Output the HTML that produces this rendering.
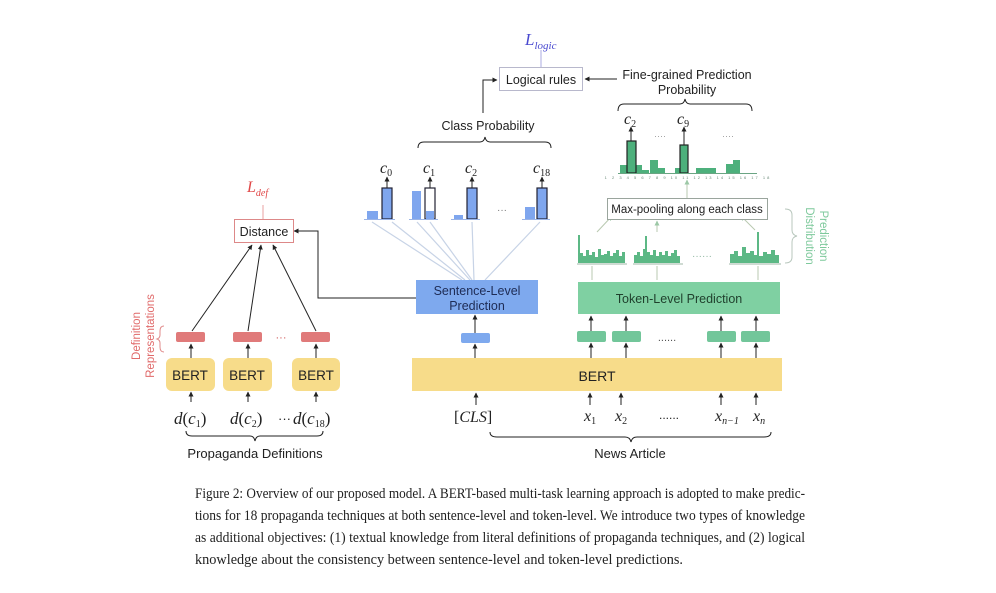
<!DOCTYPE html>
<html><head><meta charset="utf-8"><style>
html,body{margin:0;padding:0;background:#fff;}
svg{display:block;}
text{font-family:"Liberation Sans",sans-serif;}
.s{font-family:"Liberation Serif",serif;}
</style></head><body>
<svg width="996" height="593" viewBox="0 0 996 593" xmlns="http://www.w3.org/2000/svg">
<defs>
<marker id="a" viewBox="0 0 10 10" refX="9" refY="5" markerWidth="5" markerHeight="5" orient="auto"><path d="M0,0L10,5L0,10z" fill="#222"/></marker>
<marker id="g" viewBox="0 0 10 10" refX="9" refY="5" markerWidth="5" markerHeight="5" orient="auto"><path d="M0,0L10,5L0,10z" fill="#9cc8a6"/></marker>
</defs>
<rect width="996" height="593" fill="#fff"/>

<text x="525" y="45" class="s" font-size="17" font-style="italic" fill="#4a4ad0">L<tspan font-size="11" dy="4">logic</tspan></text>
<line x1="541" y1="50" x2="541" y2="67" stroke="#b9b9e6" stroke-width="1.2"/>
<rect x="499.5" y="67.5" width="83" height="23" fill="#fff" stroke="#b8b8cc"/>
<text x="541" y="84" font-size="12.5" text-anchor="middle" fill="#222">Logical rules</text>
<line x1="617" y1="79" x2="585" y2="79" stroke="#222" stroke-width="1" marker-end="url(#a)"/>
<text x="687" y="79" font-size="12.5" text-anchor="middle" fill="#222">Fine-grained Prediction</text>
<text x="687" y="94" font-size="12.5" text-anchor="middle" fill="#222">Probability</text>
<path d="M483,113 V80 H497" fill="none" stroke="#222" stroke-width="1" marker-end="url(#a)"/>
<text x="488" y="130" font-size="12.5" text-anchor="middle" fill="#222">Class Probability</text>
<path d="M418,148 Q418,142 424,142 H480 Q484,142 485,137 Q486,142 490,142 H545 Q551,142 551,148" fill="none" stroke="#222" stroke-width="1"/>
<path d="M618,111 Q618,104 624,104 H680 Q684,104 685,99 Q686,104 690,104 H746 Q752,104 752,111" fill="none" stroke="#222" stroke-width="1"/>

<g fill="#7fa6ee">
<rect x="367" y="211" width="11" height="8"/>
<rect x="382" y="188" width="10" height="31" stroke="#223" stroke-width="1.2"/>
<rect x="412" y="191" width="9" height="28"/>
<rect x="425" y="188" width="10" height="31" fill="#fff" stroke="#223" stroke-width="1.2"/>
<rect x="426" y="211" width="8" height="8"/>
<rect x="454" y="215" width="9" height="4"/>
<rect x="467" y="188" width="10" height="31" stroke="#223" stroke-width="1.2"/>
<rect x="525" y="207" width="10" height="12"/>
<rect x="537" y="188" width="10" height="31" stroke="#223" stroke-width="1.2"/>
</g>
<line x1="364" y1="219.5" x2="395" y2="219.5" stroke="#9bb4e6"/>
<line x1="409" y1="219.5" x2="438" y2="219.5" stroke="#9bb4e6"/>
<line x1="451" y1="219.5" x2="480" y2="219.5" stroke="#9bb4e6"/>
<line x1="522" y1="219.5" x2="550" y2="219.5" stroke="#9bb4e6"/>
<g stroke="#222" stroke-width="1">
<line x1="387" y1="188" x2="387" y2="177" marker-end="url(#a)"/>
<line x1="430" y1="188" x2="430" y2="177" marker-end="url(#a)"/>
<line x1="472" y1="188" x2="472" y2="177" marker-end="url(#a)"/>
<line x1="542" y1="188" x2="542" y2="177" marker-end="url(#a)"/>
</g>
<g class="s" font-size="16" font-style="italic" fill="#222">
<text x="380" y="173" class="s">c<tspan font-size="10" dy="3" font-style="normal">0</tspan></text>
<text x="423" y="173" class="s">c<tspan font-size="10" dy="3" font-style="normal">1</tspan></text>
<text x="465" y="173" class="s">c<tspan font-size="10" dy="3" font-style="normal">2</tspan></text>
<text x="533" y="173" class="s">c<tspan font-size="10" dy="3" font-style="normal">18</tspan></text>
</g>
<text x="502" y="213" font-size="10" fill="#777" text-anchor="middle">···</text>
<g stroke="#c7d3e6" stroke-width="1.2">
<line x1="372" y1="222" x2="462" y2="280"/>
<line x1="392" y1="222" x2="465" y2="280"/>
<line x1="417" y1="222" x2="470" y2="280"/>
<line x1="430" y1="222" x2="472" y2="280"/>
<line x1="472" y1="222" x2="474" y2="280"/>
<line x1="540" y1="222" x2="485" y2="280"/>
</g>

<rect x="416" y="280" width="122" height="34" fill="#7ea9ee"/>
<text x="477" y="295" font-size="12.5" text-anchor="middle" fill="#1e2c55">Sentence-Level</text>
<text x="477" y="310" font-size="12.5" text-anchor="middle" fill="#1e2c55">Prediction</text>
<path d="M416,298 H318 V231 H294" fill="none" stroke="#222" stroke-width="1" marker-end="url(#a)"/>
<line x1="475" y1="333" x2="475" y2="315" stroke="#222" marker-end="url(#a)"/>
<rect x="461" y="333" width="29" height="10" rx="2" fill="#7ea9ee"/>
<line x1="475" y1="358" x2="475" y2="344" stroke="#222" marker-end="url(#a)"/>

<rect x="412" y="358" width="370" height="33" fill="#f7dc8a"/>
<text x="597" y="381" font-size="14" text-anchor="middle" fill="#222">BERT</text>
<g stroke="#222" stroke-width="1">
<line x1="476" y1="405" x2="476" y2="393" marker-end="url(#a)"/>
<line x1="590" y1="405" x2="590" y2="393" marker-end="url(#a)"/>
<line x1="621" y1="405" x2="621" y2="393" marker-end="url(#a)"/>
<line x1="721" y1="405" x2="721" y2="393" marker-end="url(#a)"/>
<line x1="756" y1="405" x2="756" y2="393" marker-end="url(#a)"/>
</g>
<g font-size="16" fill="#222" font-style="italic">
<text x="454" y="422" class="s"><tspan font-style="normal">[</tspan>CLS<tspan font-style="normal">]</tspan></text>
<text x="584" y="421" class="s">x<tspan font-size="10" dy="3" font-style="normal">1</tspan></text>
<text x="615" y="421" class="s">x<tspan font-size="10" dy="3" font-style="normal">2</tspan></text>
<text x="715" y="421" class="s">x<tspan font-size="10" dy="3">n−1</tspan></text>
<text x="753" y="421" class="s">x<tspan font-size="10" dy="3">n</tspan></text>
</g>
<text x="669" y="419" font-size="12" text-anchor="middle" fill="#222">......</text>
<path d="M490,432 Q490,437 497,437 H625 Q630,437 631,442 Q632,437 637,437 H764 Q771,437 771,432" fill="none" stroke="#222" stroke-width="1"/>
<text x="630" y="458" font-size="13" text-anchor="middle" fill="#222">News Article</text>

<g fill="#72c69a">
<rect x="577" y="331" width="29" height="11" rx="2"/>
<rect x="612" y="331" width="29" height="11" rx="2"/>
<rect x="707" y="331" width="29" height="11" rx="2"/>
<rect x="741" y="331" width="29" height="11" rx="2"/>
</g>
<text x="667" y="341" font-size="11" text-anchor="middle" fill="#555">......</text>
<g stroke="#222" stroke-width="1">
<line x1="591" y1="358" x2="591" y2="343" marker-end="url(#a)"/>
<line x1="626" y1="358" x2="626" y2="343" marker-end="url(#a)"/>
<line x1="721" y1="358" x2="721" y2="343" marker-end="url(#a)"/>
<line x1="756" y1="358" x2="756" y2="343" marker-end="url(#a)"/>
<line x1="591" y1="331" x2="591" y2="316" marker-end="url(#a)"/>
<line x1="626" y1="331" x2="626" y2="316" marker-end="url(#a)"/>
<line x1="721" y1="331" x2="721" y2="316" marker-end="url(#a)"/>
<line x1="756" y1="331" x2="756" y2="316" marker-end="url(#a)"/>
</g>
<rect x="578" y="282" width="202" height="32" fill="#7fd0a2"/>
<text x="679" y="303" font-size="12.5" text-anchor="middle" fill="#1f3f2c">Token-Level Prediction</text>

<g fill="#5cb885">
<path d="M578,263 V235 H580 V253 H583 V256 H586 V250 H589 V255 H592 V252 H595 V257 H598 V249 H601 V255 H604 V254 H607 V251 H610 V256 H613 V253 H616 V250 H619 V256 H622 V252 H625 V263 Z"/>
<path d="M634,263 V255 H637 V252 H640 V256 H643 V249 H645 V236 H647 V252 H650 V255 H653 V250 H656 V256 H659 V252 H662 V255 H665 V251 H668 V256 H671 V253 H674 V250 H677 V256 H680 V263 Z"/>
<path d="M730,263 V254 H734 V251 H738 V256 H742 V247 H746 V253 H750 V251 H754 V255 H757 V232 H759 V256 H763 V252 H767 V254 H771 V250 H775 V255 H779 V263 Z"/>
</g>
<g stroke="#7f9f8a" stroke-width="0.8">
<line x1="577" y1="264" x2="627" y2="264"/><line x1="633" y1="264" x2="683" y2="264"/><line x1="729" y1="264" x2="781" y2="264"/>
</g>
<text x="702" y="259" font-size="10" text-anchor="middle" fill="#8fb7a0">······</text>
<g stroke="#b9c9b0" stroke-width="1">
<line x1="592" y1="280" x2="592" y2="266"/>
<line x1="657" y1="280" x2="657" y2="266"/>
<line x1="758" y1="280" x2="758" y2="266"/>
<line x1="597" y1="232" x2="612" y2="216" marker-end="url(#g)"/>
<line x1="657" y1="232" x2="657" y2="221" marker-end="url(#g)"/>
<line x1="755" y1="230" x2="741" y2="216" marker-end="url(#g)"/>
<line x1="687" y1="198" x2="687" y2="180" marker-end="url(#g)"/>
</g>
<rect x="607.5" y="198.5" width="160" height="21" fill="#fff" stroke="#9aa59d"/>
<text x="687" y="213" font-size="11.5" text-anchor="middle" fill="#222">Max-pooling along each class</text>
<path d="M785,209 Q792,209 792,215 V230 Q792,235 797,236 Q792,237 792,242 V257 Q792,263 785,263" fill="none" stroke="#b8c7bd" stroke-width="1"/>
<g fill="#7ec99c" font-size="11.5" text-anchor="middle">
<text transform="translate(820,236) rotate(90)" x="0" y="0">Prediction</text>
<text transform="translate(806,236) rotate(90)" x="0" y="0">Distribution</text>
</g>

<g fill="#4db07c">
<rect x="620" y="165" width="7" height="8"/>
<rect x="636" y="165" width="6" height="8"/>
<rect x="642" y="170" width="7" height="3"/>
<rect x="650" y="160" width="8" height="13"/>
<rect x="658" y="168" width="7" height="5"/>
<rect x="675" y="168" width="5" height="5"/>
<rect x="696" y="168" width="20" height="5"/>
<rect x="726" y="164" width="7" height="9"/>
<rect x="733" y="160" width="7" height="13"/>
<rect x="627" y="141" width="9" height="32" stroke="#222" stroke-width="1.2"/>
<rect x="680" y="145" width="8" height="28" stroke="#222" stroke-width="1.2"/>
</g>
<line x1="618" y1="173.5" x2="757" y2="173.5" stroke="#6aa583"/>
<text x="688" y="179" font-size="4" fill="#6a8a78" text-anchor="middle" letter-spacing="2">1 2 3 4 5 6 7 8 9 10 11 12 13 14 15 16 17 18</text>
<g stroke="#222" stroke-width="1">
<line x1="631" y1="141" x2="631" y2="127" marker-end="url(#a)"/>
<line x1="684" y1="145" x2="684" y2="127" marker-end="url(#a)"/>
</g>
<text x="624" y="124" font-size="16" font-style="italic" class="s" fill="#222">c<tspan font-size="10" dy="3" font-style="normal">2</tspan></text>
<text x="677" y="124" font-size="16" font-style="italic" class="s" fill="#222">c<tspan font-size="10" dy="3" font-style="normal">9</tspan></text>
<text x="660" y="139" font-size="9" fill="#999" text-anchor="middle">····</text>
<text x="728" y="139" font-size="9" fill="#999" text-anchor="middle">····</text>

<text x="247" y="192" class="s" font-size="16" font-style="italic" fill="#e04848">L<tspan font-size="10" dy="4">def</tspan></text>
<line x1="263" y1="205" x2="263" y2="219" stroke="#e9a0a0"/>
<rect x="234.5" y="219.5" width="59" height="23" fill="#fff" stroke="#d88"/>
<text x="264" y="236" font-size="12.5" text-anchor="middle" fill="#222">Distance</text>
<g stroke="#222" stroke-width="1">
<line x1="192" y1="331" x2="252" y2="245" marker-end="url(#a)"/>
<line x1="248" y1="331" x2="261" y2="245" marker-end="url(#a)"/>
<line x1="316" y1="331" x2="273" y2="245" marker-end="url(#a)"/>
<line x1="191" y1="358" x2="191" y2="344" marker-end="url(#a)"/>
<line x1="248" y1="358" x2="248" y2="344" marker-end="url(#a)"/>
<line x1="316" y1="358" x2="316" y2="344" marker-end="url(#a)"/>
<line x1="191" y1="402" x2="191" y2="392" marker-end="url(#a)"/>
<line x1="248" y1="402" x2="248" y2="392" marker-end="url(#a)"/>
<line x1="316" y1="402" x2="316" y2="392" marker-end="url(#a)"/>
</g>
<g fill="#e07a7a">
<rect x="176" y="332" width="29" height="10" rx="2"/>
<rect x="233" y="332" width="29" height="10" rx="2"/>
<rect x="301" y="332" width="29" height="10" rx="2"/>
</g>
<text x="281" y="341" font-size="11" fill="#d05a5a" text-anchor="middle">···</text>
<g fill="#f7dc8a">
<rect x="166" y="358" width="49" height="33" rx="6"/>
<rect x="223" y="358" width="49" height="33" rx="6"/>
<rect x="292" y="358" width="48" height="33" rx="6"/>
</g>
<g font-size="13.5" text-anchor="middle" fill="#222">
<text x="190" y="380">BERT</text><text x="247" y="380">BERT</text><text x="316" y="380">BERT</text>
</g>
<path d="M164,326 Q160,326 160,331 V335 Q160,338 157,339 Q160,340 160,343 V347 Q160,352 164,352" fill="none" stroke="#e08a8a" stroke-width="1"/>
<g fill="#e06a6a" font-size="11.5" text-anchor="middle">
<text transform="translate(140,336) rotate(-90)">Definition</text>
<text transform="translate(154,336) rotate(-90)">Representations</text>
</g>
<g class="s" font-size="17" fill="#222" font-style="italic">
<text x="174" y="424" class="s">d<tspan font-style="normal">(</tspan>c<tspan font-size="10" dy="3" font-style="normal">1</tspan><tspan dy="-3" font-style="normal">)</tspan></text>
<text x="230" y="424" class="s">d<tspan font-style="normal">(</tspan>c<tspan font-size="10" dy="3" font-style="normal">2</tspan><tspan dy="-3" font-style="normal">)</tspan></text>
<text x="293" y="424" class="s">d<tspan font-style="normal">(</tspan>c<tspan font-size="10" dy="3" font-style="normal">18</tspan><tspan dy="-3" font-style="normal">)</tspan></text>
</g>
<text x="278" y="423" font-size="13" fill="#222">···</text>
<path d="M186,431 Q186,436 192,436 H250 Q254,436 255,441 Q256,436 260,436 H317 Q323,436 323,431" fill="none" stroke="#222" stroke-width="1"/>
<text x="255" y="458" font-size="13" text-anchor="middle" fill="#222">Propaganda Definitions</text>

<g class="s" font-size="14.6" fill="#222">
<text x="195" y="498" class="s" textLength="610" lengthAdjust="spacingAndGlyphs">Figure 2: Overview of our proposed model. A BERT-based multi-task learning approach is adopted to make predic-</text>
<text x="195" y="520" class="s" textLength="610" lengthAdjust="spacingAndGlyphs">tions for 18 propaganda techniques at both sentence-level and token-level. We introduce two types of knowledge</text>
<text x="195" y="542" class="s" textLength="610" lengthAdjust="spacingAndGlyphs">as additional objectives: (1) textual knowledge from literal definitions of propaganda techniques, and (2) logical</text>
<text x="195" y="564" class="s" textLength="488" lengthAdjust="spacingAndGlyphs">knowledge about the consistency between sentence-level and token-level predictions.</text>
</g>
</svg>
</body></html>
